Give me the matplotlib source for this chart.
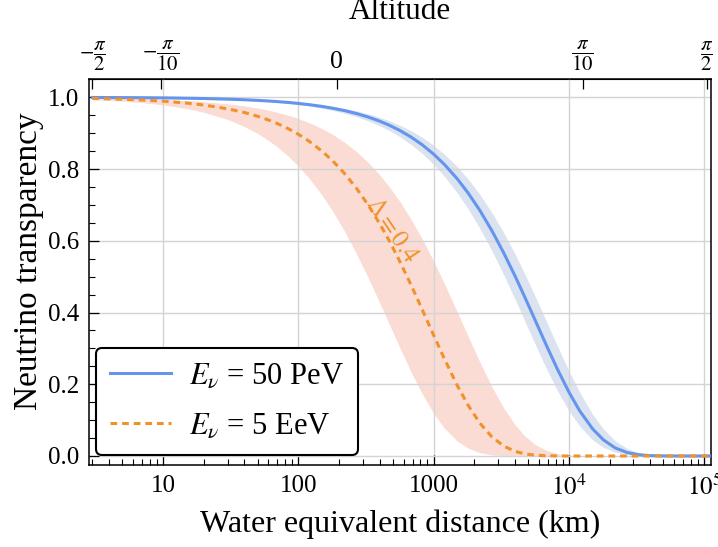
import numpy as np
import matplotlib
matplotlib.use("Agg")
import matplotlib.pyplot as plt
from matplotlib.lines import Line2D
from matplotlib.ticker import FixedLocator, FixedFormatter, LogLocator, NullFormatter, MultipleLocator

plt.rcParams['font.family'] = ['Liberation Serif', 'DejaVu Serif']
plt.rcParams['mathtext.fontset'] = 'stix'

# distance grid (km) and read-off transparencies
dist = [3, 5, 7, 10, 15, 20, 30, 40, 50, 60,
        70, 85, 100, 120, 150, 180, 220, 270, 330, 400,
        470, 560, 680, 820, 1000, 1200, 1500, 1800, 2200, 2700,
        3300, 4000, 4700, 5600, 6800, 8200, 10000, 12000, 15000, 18000,
        22000, 27000, 33000, 40000, 50000, 70000, 112000]

pev50 = [0.9995, 0.9991, 0.9988, 0.9983, 0.9974, 0.9966, 0.9948, 0.9931, 0.9914, 0.9897,
         0.9880, 0.9855, 0.9829, 0.9795, 0.9745, 0.9694, 0.9628, 0.9545, 0.9447, 0.9334,
         0.9222, 0.9080, 0.8894, 0.8682, 0.8416, 0.8131, 0.7721, 0.7332, 0.6844, 0.6278,
         0.5661, 0.5018, 0.4447, 0.3808, 0.3096, 0.2432, 0.1783, 0.1263, 0.0753, 0.0449,
         0.0225, 0.0095, 0.0034, 0.0010, 0.0002, 0.0, 0.0]
pev50_lo = [0.9994, 0.9990, 0.9986, 0.9979, 0.9969, 0.9959, 0.9938, 0.9918, 0.9897, 0.9877,
            0.9856, 0.9826, 0.9795, 0.9755, 0.9694, 0.9634, 0.9555, 0.9456, 0.9340, 0.9205,
            0.9073, 0.8905, 0.8687, 0.8439, 0.8130, 0.7800, 0.7330, 0.6889, 0.6342, 0.5718,
            0.5050, 0.4369, 0.3779, 0.3137, 0.2447, 0.1831, 0.1261, 0.0834, 0.0448, 0.0241,
            0.0105, 0.0037, 0.0011, 0.0003, 0.0, 0.0, 0.0]
pev50_hi = [0.9996, 0.9993, 0.9990, 0.9986, 0.9978, 0.9971, 0.9957, 0.9943, 0.9928, 0.9914,
            0.9900, 0.9879, 0.9857, 0.9829, 0.9787, 0.9745, 0.9689, 0.9620, 0.9537, 0.9441,
            0.9347, 0.9227, 0.9069, 0.8889, 0.8662, 0.8416, 0.8061, 0.7721, 0.7290, 0.6785,
            0.6224, 0.5629, 0.5090, 0.4473, 0.3764, 0.3078, 0.2377, 0.1783, 0.1159, 0.0753,
            0.0424, 0.0207, 0.0087, 0.0032, 0.0008, 0.0, 0.0]

eev5 = [0.9967, 0.9946, 0.9924, 0.9892, 0.9838, 0.9785, 0.9679, 0.9575, 0.9471, 0.9369,
        0.9267, 0.9117, 0.8970, 0.8777, 0.8496, 0.8223, 0.7873, 0.7457, 0.6986, 0.6474,
        0.6000, 0.5441, 0.4775, 0.4101, 0.3372, 0.2714, 0.1958, 0.1413, 0.0915, 0.0531,
        0.0277, 0.0129, 0.0060, 0.0023, 0.0006, 0.0001, 0.0, 0.0, 0.0, 0.0,
        0.0, 0.0, 0.0, 0.0, 0.0, 0.0, 0.0]
eev5_lo = [0.9936, 0.9894, 0.9852, 0.9789, 0.9686, 0.9583, 0.9382, 0.9184, 0.8991, 0.8801,
           0.8616, 0.8346, 0.8084, 0.7747, 0.7268, 0.6818, 0.6262, 0.5630, 0.4956, 0.4270,
           0.3679, 0.3038, 0.2353, 0.1747, 0.1191, 0.0778, 0.0411, 0.0217, 0.0093, 0.0032,
           0.0009, 0.0002, 0.0, 0.0, 0.0, 0.0, 0.0, 0.0, 0.0, 0.0,
           0.0, 0.0, 0.0, 0.0, 0.0, 0.0, 0.0]
eev5_hi = [0.9982, 0.9970, 0.9957, 0.9939, 0.9909, 0.9879, 0.9819, 0.9759, 0.9700, 0.9641,
           0.9582, 0.9495, 0.9408, 0.9294, 0.9126, 0.8961, 0.8745, 0.8482, 0.8177, 0.7835,
           0.7508, 0.7108, 0.6606, 0.6065, 0.5435, 0.4811, 0.4007, 0.3337, 0.2615, 0.1928,
           0.1337, 0.0872, 0.0569, 0.0329, 0.0158, 0.0067, 0.0022, 0.0007, 0.0001, 0.0,
           0.0, 0.0, 0.0, 0.0, 0.0, 0.0, 0.0]

bottom_ticks = [10, 100, 1000, 1e4, 1e5]
bottom_labels = ['10', '100', '1000', r'$10^4$', r'$10^5$']
y_ticks = [0.0, 0.2, 0.4, 0.6, 0.8, 1.0]
y_labels = ['0.0', '0.2', '0.4', '0.6', '0.8', '1.0']

top_ticks = [3.0, 9.6, 193, 12700, 1.05e5]
top_labels = [r'$-\dfrac{\pi}{2}$', r'$-\dfrac{\pi}{10}$', '0', r'$\dfrac{\pi}{10}$', r'$\dfrac{\pi}{2}$']

blue = '#6495ED'
orange = '#F0922A'

fig = plt.figure(figsize=(7.18, 5.47), dpi=100)
ax = fig.add_axes([0.124, 0.150, 0.866, 0.7056])

ax.fill_between(dist, eev5_lo, eev5_hi, color='#FADCD4', lw=0, zorder=1)
ax.fill_between(dist, pev50_lo, pev50_hi, color='#DCE3F0', lw=0, zorder=1)
ax.plot(dist, pev50, color=blue, lw=2.2, zorder=3)
ax.plot(dist, eev5, color=orange, lw=2.2, dashes=(2.2, 1.6), zorder=4)

ax.set_xscale('log')
ax.set_xlim(2.84, 1.12e5)
ax.set_ylim(-0.025, 1.051)

ax.xaxis.set_major_locator(FixedLocator(bottom_ticks))
ax.xaxis.set_major_formatter(FixedFormatter(bottom_labels))
ax.xaxis.set_minor_locator(LogLocator(base=10, subs=np.arange(2, 10), numticks=20))
ax.xaxis.set_minor_formatter(NullFormatter())
ax.yaxis.set_major_locator(FixedLocator(y_ticks))
ax.yaxis.set_major_formatter(FixedFormatter(y_labels))
ax.yaxis.set_minor_locator(MultipleLocator(0.05))

ax.grid(True, which='major', color='#d4d4d4', lw=1.0, zorder=0)
ax.tick_params(which='both', direction='in', top=False, right=False, labelsize=18, pad=7)
ax.tick_params(which='major', length=7, width=0.9)
ax.tick_params(which='minor', length=4, width=0.8)
for s in ax.spines.values():
    s.set_linewidth(1.1)

ax.set_xlabel('Water equivalent distance (km)', fontsize=23, labelpad=7)
ax.set_ylabel('Neutrino transparency', fontsize=24)
ax.yaxis.set_label_coords(-0.072, 0.528)

# altitude axis on top
tx = ax.secondary_xaxis('top')
tx.set_xticks(top_ticks)
tx.set_xticklabels(top_labels)
tx.xaxis.set_minor_locator(FixedLocator([]))
tx.tick_params(direction='in', length=7, width=0.9, labelsize=15, pad=4)
tx.set_xlabel('Altitude', fontsize=22.5, labelpad=14)

ax.text(484, 0.63, r'$\Lambda = 0.4$', color=orange, fontsize=18, rotation=-56,
        ha='center', va='center', zorder=5)

handles = [Line2D([], [], color=blue, lw=2.2),
           Line2D([], [], color=orange, lw=2.2, dashes=(2.2, 1.6))]
leg = ax.legend(handles, [r'$E_\nu$ = 50 PeV', r'$E_\nu$ = 5 EeV'], loc='lower left',
                bbox_to_anchor=(0.011, 0.026), borderaxespad=0, fontsize=22,
                handlelength=2.0, labelspacing=0.7, borderpad=0.45, handletextpad=0.6,
                fancybox=True, framealpha=1, edgecolor='black')
leg.get_frame().set_linewidth(1.5)
leg.set_zorder(6)

# the plain "0" on the altitude axis is drawn larger than the fractions
fig.canvas.draw()
tx.xaxis.get_major_ticks()[2].label2.set_fontsize(18.5)

fig.savefig('out.png', dpi=100)
